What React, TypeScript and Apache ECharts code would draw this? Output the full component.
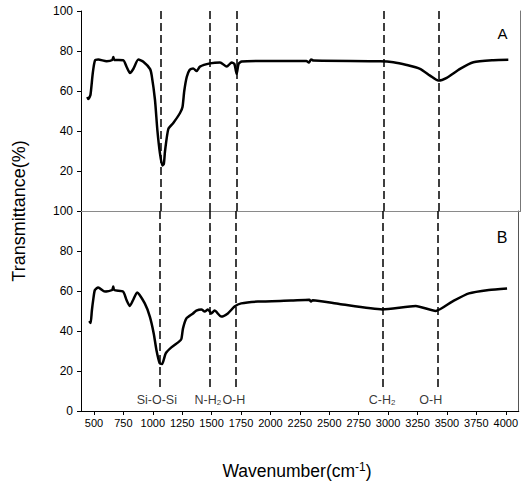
import React, { useEffect, useRef } from "react";
import * as echarts from "echarts";

// Panel A (top) spectrum
const waveA = [443, 452, 470, 489, 508, 536, 607, 655, 664, 672, 748, 777, 805, 833, 876, 918, 975, 989, 1017, 1037, 1059, 1079, 1092, 1102, 1130, 1172, 1229, 1250, 1265, 1286, 1310, 1340, 1370, 1398, 1483, 1568, 1625, 1667, 1690, 1709, 1725, 1752, 1907, 2300, 2320, 2340, 2360, 2924, 3037, 3150, 3263, 3348, 3418, 3489, 3602, 3715, 3884, 4011];
const transA = [57, 56, 58, 68.6, 75.2, 75.7, 74.9, 75.5, 77, 75.5, 75.4, 72, 69, 71, 75.7, 74.6, 71, 67.8, 55.5, 40.5, 28.8, 22.7, 23.5, 30, 41, 44, 49, 52, 60, 67, 70.5, 71.3, 70, 72.2, 73.8, 74.3, 72.2, 74.3, 73.5, 68.5, 73.5, 74.7, 75, 75, 74.2, 75.8, 75.2, 74.9, 74.4, 73, 71.1, 67.7, 65.2, 66.6, 71.1, 74.4, 75.4, 75.6];

// Panel B (bottom) spectrum
const waveB = [460, 472, 482, 494, 508, 536, 593, 655, 664, 672, 748, 777, 805, 833, 867, 932, 975, 1008, 1031, 1059, 1079, 1110, 1158, 1223, 1243, 1257, 1286, 1342, 1370, 1413, 1441, 1469, 1497, 1525, 1582, 1638, 1695, 1752, 1893, 2175, 2330, 2345, 2360, 2585, 2952, 3235, 3404, 3545, 3687, 3856, 4011];
const transB = [45, 44, 50, 55.7, 60.5, 61.8, 59.7, 60.5, 62.2, 60.5, 59.7, 55.5, 52.5, 55.5, 59.3, 53.8, 47.2, 38.8, 30.5, 23.8, 23.5, 28.8, 31.8, 34.7, 36, 41.3, 46.3, 48.8, 50.2, 50.8, 49.7, 50.8, 48.8, 50.2, 47.2, 48.8, 52.2, 53.8, 54.7, 55.2, 55.6, 54.7, 55.4, 53.5, 50.8, 52.5, 50, 54.7, 58.8, 60.5, 61.3];

// Band markers
const bandLines = [1062, 1480, 1706, 2955, 3418];
const bandLabelX = [1034, 1468, 1689, 2949, 3362];
const bandLabels = ["{a|Si-O-Si}", "{a|N-H}{s|2}", "{a|O-H}", "{a|C-H}{s|2}", "{a|O-H}"];
const bandLabelY = 5.75;
const bandLineEndB = 11.3;

const xTicks = [500, 750, 1000, 1250, 1500, 1750, 2000, 2250, 2500, 2750, 3000, 3250, 3500, 3750, 4000];

const FONT = "'Liberation Sans', Arial, sans-serif";

export default function App() {
  const ref = useRef<HTMLDivElement>(null);
  useEffect(() => {
    if (!ref.current) return;
    const chart = echarts.init(ref.current, undefined, { renderer: "svg" });
    const dataA = waveA.map((x, i) => [x, transA[i]]);
    const dataB = waveB.map((x, i) => [x, transB[i]]);
    const dash = { type: [8, 4], color: "#000", width: 1.5 };
    const black = { color: "#000", width: 1 };
    const option: any = {
      animation: false,
      backgroundColor: "#fff",
      textStyle: { fontFamily: FONT },
      grid: [
        { left: 81, top: 11, width: 439, height: 200 },
        { left: 81, top: 211, width: 439, height: 200 },
      ],
      xAxis: [
        {
          gridIndex: 0, type: "value", min: 390, max: 4110, position: "bottom",
          axisLine: { show: true, lineStyle: black }, axisTick: { show: false },
          axisLabel: { show: false }, splitLine: { show: false },
        },
        {
          gridIndex: 0, type: "value", min: 390, max: 4110, position: "top",
          axisLine: { show: true, lineStyle: { color: "#8a8a8a", width: 1.2 } }, axisTick: { show: false },
          axisLabel: { show: false }, splitLine: { show: false },
        },
        {
          gridIndex: 1, type: "value", min: 390, max: 4110, position: "bottom",
          axisLine: { show: true, lineStyle: black },
          axisTick: { show: true, length: 4, customValues: xTicks, lineStyle: black },
          axisLabel: {
            show: true, customValues: xTicks, fontSize: 11, color: "#000", margin: 6, fontFamily: FONT,
            formatter: (v: number) => String(v),
          },
          splitLine: { show: false },
        },
        {
          gridIndex: 1, type: "value", min: 390, max: 4110, position: "top",
          axisLine: { show: true, lineStyle: black },
          axisTick: { show: true, inside: true, length: 4, customValues: xTicks, lineStyle: black },
          axisLabel: { show: false }, splitLine: { show: false },
        },
      ],
      yAxis: [
        {
          gridIndex: 0, type: "value", min: 0, max: 100, interval: 20,
          axisLine: { show: true, lineStyle: black },
          axisTick: { show: true, length: 4, lineStyle: black },
          axisLabel: { show: true, showMinLabel: false, fontSize: 12, color: "#000", margin: 8, fontFamily: FONT },
          splitLine: { show: false },
        },
        {
          gridIndex: 0, type: "value", min: 0, max: 100, position: "right",
          axisLine: { show: true, lineStyle: { color: "#777", width: 1 } },
          axisTick: { show: false }, axisLabel: { show: false }, splitLine: { show: false },
        },
        {
          gridIndex: 1, type: "value", min: 0, max: 100, interval: 20,
          axisLine: { show: true, lineStyle: black },
          axisTick: { show: true, length: 4, lineStyle: black },
          axisLabel: { show: true, fontSize: 12, color: "#000", margin: 8, fontFamily: FONT },
          splitLine: { show: false },
        },
        {
          gridIndex: 1, type: "value", min: 0, max: 100, position: "right",
          axisLine: { show: true, lineStyle: { color: "#555", width: 1 } },
          axisTick: { show: false }, axisLabel: { show: false }, splitLine: { show: false },
        },
      ],
      series: [
        {
          type: "line", xAxisIndex: 0, yAxisIndex: 0, data: dataA,
          showSymbol: false, smooth: 0.2,
          lineStyle: { color: "#000", width: 2.5 },
          markLine: {
            silent: true, symbol: ["none", "none"], label: { show: false },
            lineStyle: dash,
            data: bandLines.map((x) => [{ coord: [x, 100] }, { coord: [x, 0] }]),
          },
        },
        {
          type: "line", xAxisIndex: 2, yAxisIndex: 2, data: dataB,
          showSymbol: false, smooth: 0.2,
          lineStyle: { color: "#000", width: 2.5 },
          markLine: {
            silent: true, symbol: ["none", "none"], label: { show: false },
            lineStyle: dash,
            data: bandLines.map((x) => [{ coord: [x, 100] }, { coord: [x, bandLineEndB] }]),
          },
        },
        {
          type: "scatter", xAxisIndex: 2, yAxisIndex: 2,
          data: bandLabelX.map((x) => [x, bandLabelY]),
          symbolSize: 0,
          label: {
            show: true, position: [0, 0], align: "center", verticalAlign: "middle",
            formatter: (p: any) => bandLabels[p.dataIndex],
            rich: {
              a: { fontSize: 12.5, lineHeight: 14, color: "#000", fontFamily: FONT },
              s: { fontSize: 8, lineHeight: 6, verticalAlign: "bottom", color: "#000", fontFamily: FONT },
            },
          },
        },
      ],
      graphic: [
        {
          type: "text", x: 18.5, y: 211, rotation: Math.PI / 2,
          style: {
            text: "Transmittance(%)", fill: "#000", font: `18px ${FONT}`,
            align: "center", verticalAlign: "middle",
          },
        },
        {
          type: "text", x: 297, y: 471,
          style: {
            text: "{a|Wavenumber(cm}{b|-1}{a|)}", fill: "#000",
            align: "center", verticalAlign: "middle",
            rich: {
              a: { fontSize: 17.5, lineHeight: 20, fontFamily: FONT, fill: "#000" },
              b: { fontSize: 12, lineHeight: 4, verticalAlign: "top", fontFamily: FONT, fill: "#000" },
            },
          },
        },
        {
          type: "text", x: 502.5, y: 33,
          style: { text: "A", fill: "#000", font: `15px ${FONT}`, align: "center", verticalAlign: "middle" },
        },
        {
          type: "text", x: 502, y: 237,
          style: { text: "B", fill: "#000", font: `16px ${FONT}`, align: "center", verticalAlign: "middle" },
        },
      ],
    };
    chart.setOption(option);
    return () => chart.dispose();
  }, []);
  return <div ref={ref} style={{ position: "absolute", left: 0, top: 0, width: 521, height: 490 }} />;
}
